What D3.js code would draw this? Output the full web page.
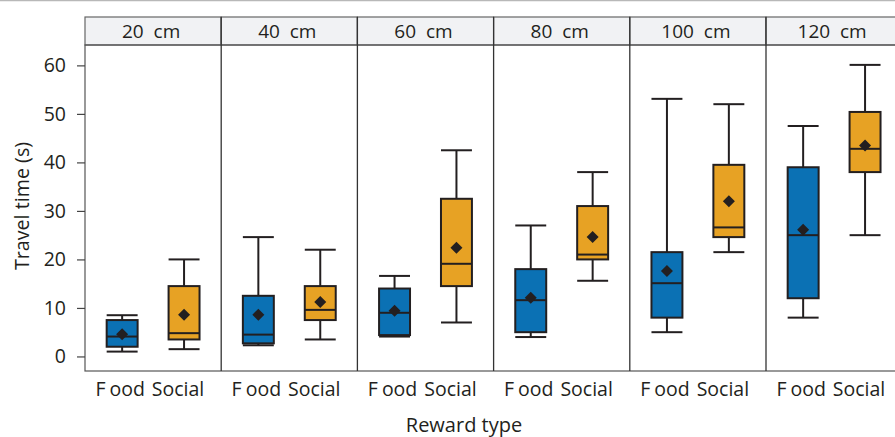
<!DOCTYPE html>
<html>
<head>
<meta charset="utf-8">
<title>Travel time by reward type</title>
<script src="https://cdn.jsdelivr.net/npm/d3@7"></script>
<style>
body { margin: 0; background: #fff; }
svg text { font-family: "Open Sans", "Noto Sans", sans-serif; fill: #231f20; }
</style>
</head>
<body>
<script>
var width = 895, height = 437;
var distances = ["20  cm", "40  cm", "60  cm", "80  cm", "100  cm", "120  cm"];
var rewards = ["Food", "Social"];
var yTicks = [0, 10, 20, 30, 40, 50, 60];

// per distance, Food then Social
var lowWhisker  = [1.0, 1.5,  2.3, 3.5,  4.1, 7.0,  4.0, 15.6,  5.0, 21.5,  8.0, 25.0];
var q1          = [2.0, 3.5,  2.7, 7.5,  4.4, 14.5, 5.0, 20.0,  8.0, 24.6,  12.0, 38.0];
var medians     = [4.1, 4.8,  4.5, 9.6,  9.0, 19.1, 11.6, 21.0, 15.1, 26.6, 25.0, 42.8];
var q3          = [7.5, 14.5, 12.5, 14.5, 14.0, 32.5, 18.0, 31.0, 21.5, 39.5, 39.0, 50.4];
var highWhisker = [8.5, 20.0, 24.6, 22.0, 16.6, 42.5, 27.0, 38.0, 53.1, 52.0, 47.5, 60.1];
var means       = [4.6, 8.6,  8.6, 11.2, 9.4, 22.4, 12.1, 24.6, 17.6, 32.0, 26.1, 43.5];

var colors = {"Food": "#0b71b4", "Social": "#e7a224"};

var rows = [];
distances.forEach(function(d, i) {
  rewards.forEach(function(r, j) {
    var k = i * 2 + j;
    rows.push({dist: d, reward: r, lo: lowWhisker[k], q1: q1[k], med: medians[k],
               q3: q3[k], hi: highWhisker[k], mean: means[k]});
  });
});

var plotLeft = 85, plotTop = 45, plotBottom = 371, stripTop = 17;
var panelW = 136.2;

var svg = d3.select("body").append("svg").attr("width", width).attr("height", height);

svg.append("line").attr("x1", 0).attr("x2", width).attr("y1", 0.5).attr("y2", 0.5)
   .attr("stroke", "#b8b8b8").attr("stroke-width", 1.5);

var xPanel = d3.scaleBand().domain(distances).range([plotLeft, plotLeft + panelW * 6]);
var xInner = d3.scaleBand().domain(rewards).range([0, panelW]).paddingInner(0.5).paddingOuter(0.35);
var y = d3.scaleLinear().domain([-3, 64.2]).range([plotBottom, plotTop]);

// strips
var strips = svg.selectAll(".strip").data(distances).enter().append("g")
  .attr("class", "strip").attr("transform", d => `translate(${xPanel(d)},${stripTop})`);
strips.append("rect").attr("width", panelW).attr("height", plotTop - stripTop)
  .attr("fill", "#f1f2f4").attr("stroke", "#666").attr("stroke-width", 1.2);
strips.append("text").attr("x", panelW / 2 - 2).attr("y", (plotTop - stripTop) / 2 + 7)
  .attr("text-anchor", "middle").style("font-size", "19px").style("white-space", "pre")
  .text(d => d);

// panel borders
svg.append("rect").attr("x", plotLeft).attr("y", plotTop).attr("width", panelW * 6).attr("height", plotBottom - plotTop)
  .attr("fill", "none").attr("stroke", "#555").attr("stroke-width", 1.2);
svg.selectAll(".divider").data(distances.slice(1)).enter().append("line")
  .attr("x1", d => xPanel(d)).attr("x2", d => xPanel(d))
  .attr("y1", stripTop).attr("y2", plotBottom).attr("stroke", "#333").attr("stroke-width", 1.3);

// y axis
var yAxis = svg.append("g").attr("transform", `translate(${plotLeft},0)`)
  .call(d3.axisLeft(y).tickValues(yTicks).tickSize(8).tickPadding(11));
yAxis.select(".domain").remove();
yAxis.selectAll("line").attr("stroke", "#444").attr("stroke-width", 1.2);
yAxis.selectAll("text").style("font-size", "19.5px").attr("fill", "#231f20")
  .style("font-family", "'Open Sans', sans-serif");

// boxes
var bw = xInner.bandwidth();
var boxes = svg.selectAll(".box").data(rows).enter().append("g").attr("class", "box")
  .attr("transform", d => `translate(${xPanel(d.dist) + xInner(d.reward)},0)`);

boxes.append("line").attr("x1", bw / 2).attr("x2", bw / 2)
  .attr("y1", d => y(d.hi)).attr("y2", d => y(d.lo))
  .attr("stroke", "#231f20").attr("stroke-width", 2);
boxes.append("line").attr("x1", 0).attr("x2", bw)
  .attr("y1", d => y(d.hi)).attr("y2", d => y(d.hi))
  .attr("stroke", "#231f20").attr("stroke-width", 2);
boxes.append("line").attr("x1", 0).attr("x2", bw)
  .attr("y1", d => y(d.lo)).attr("y2", d => y(d.lo))
  .attr("stroke", "#231f20").attr("stroke-width", 2);
boxes.append("rect").attr("x", 0).attr("width", bw)
  .attr("y", d => y(d.q3)).attr("height", d => y(d.q1) - y(d.q3))
  .attr("fill", d => colors[d.reward]).attr("stroke", "#231f20").attr("stroke-width", 2);
boxes.append("line").attr("x1", 0).attr("x2", bw)
  .attr("y1", d => y(d.med)).attr("y2", d => y(d.med))
  .attr("stroke", "#231f20").attr("stroke-width", 2);
boxes.append("path")
  .attr("d", d => `M${bw / 2 - 6},${y(d.mean)} L${bw / 2},${y(d.mean) - 6} L${bw / 2 + 6},${y(d.mean)} L${bw / 2},${y(d.mean) + 6} Z`)
  .attr("fill", "#231f20");

// x labels (sit slightly left of the box centres, as in the original)
var labelShift = {"Food": -2, "Social": -6};
var labels = svg.selectAll(".xl").data(rows).enter().append("text")
  .attr("class", "xl")
  .attr("x", d => xPanel(d.dist) + xInner(d.reward) + bw / 2 + labelShift[d.reward])
  .attr("y", 396).attr("text-anchor", "middle").style("font-size", "19.5px");
labels.each(function(d) {
  var t = d3.select(this);
  if (d.reward === "Food") {
    t.append("tspan").text("F");
    t.append("tspan").attr("dx", 4).text("ood");
  } else {
    t.text(d.reward);
  }
});

svg.append("text").attr("x", 464).attr("y", 432).attr("text-anchor", "middle")
  .style("font-size", "20px").text("Reward type");
svg.append("text").attr("transform", "translate(29,206) rotate(-90)")
  .attr("text-anchor", "middle").style("font-size", "19.7px").text("Travel time (s)");
</script>
</body>
</html>
